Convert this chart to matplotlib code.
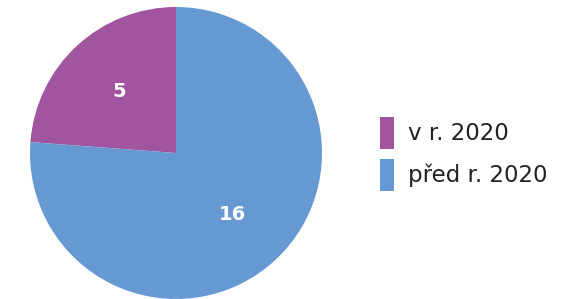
import matplotlib.pyplot as plt
from matplotlib.patches import Patch

labels = ["v r. 2020", "před r. 2020"]
values = [5, 16]
colors = ["#A0559E", "#6699D2"]

plt.rcParams['font.family'] = ['DejaVu Sans']

fig = plt.figure(figsize=(5.61, 2.99), dpi=100)
ax = fig.add_axes([30 / 561, 0.0, 292 / 561, 292 / 299])

total = sum(values)
wedges, texts, autotexts = ax.pie(
    values, colors=colors, startangle=90, counterclock=True,
    autopct=lambda p: f"{round(p * total / 100):d}", pctdistance=0.57,
    textprops=dict(color="white", fontsize=14, fontweight="bold"))
ax.set_xlim(-1, 1)
ax.set_ylim(-1, 1)
ax.set_aspect("equal")

handles = [Patch(facecolor=c, edgecolor="none") for c in colors]
fig.legend(handles, labels, loc="center left", bbox_to_anchor=(0.64, 0.485),
           frameon=False, handlelength=0.61, handleheight=1.77, handletextpad=0.61,
           labelspacing=0.436, fontsize=16.5, labelcolor="#222222")

fig.savefig("out.png", dpi=100)
